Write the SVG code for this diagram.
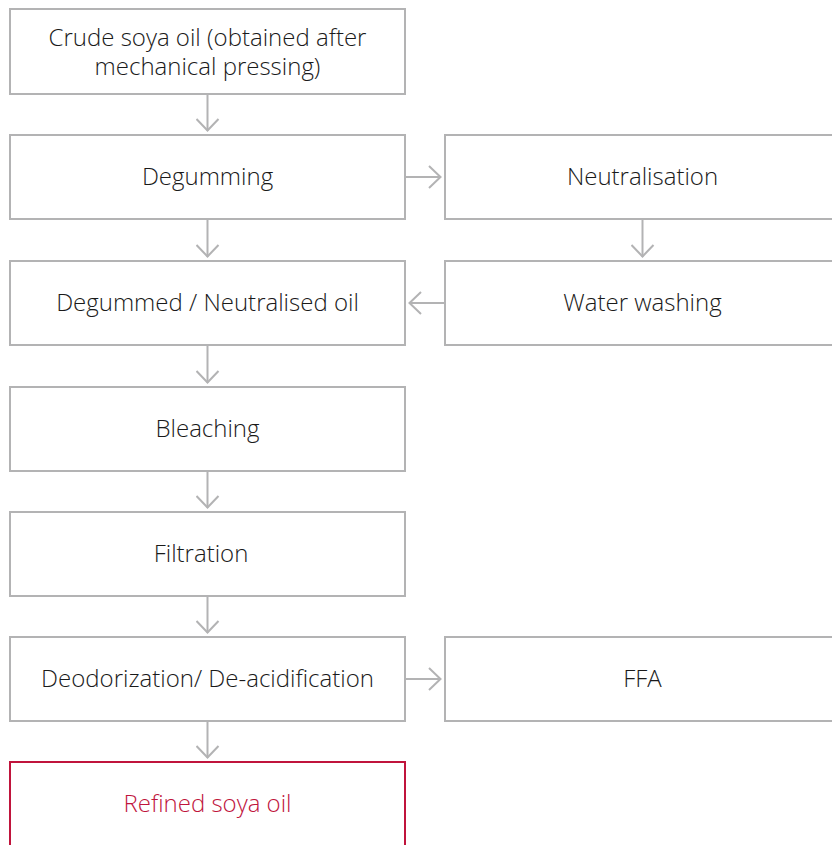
<svg xmlns="http://www.w3.org/2000/svg" width="832" height="845" viewBox="0 0 832 845">
<style>
.box{fill:#fff;stroke:#b3b3b4;stroke-width:2}
.red{fill:#fff;stroke:#c0143c;stroke-width:2}
.t{font-family:"Open Sans",Lato,sans-serif;font-weight:300;font-size:24px;fill:#1a1a1a;text-anchor:middle}
.tr{font-family:"Open Sans",Lato,sans-serif;font-weight:300;font-size:24px;fill:#c0143c;text-anchor:middle}
.c{stroke:#b3b3b4;stroke-width:2;fill:none}
</style>
<defs>
<marker id="ah" viewBox="0 0 14 24" refX="13" refY="12" markerWidth="14" markerHeight="24" markerUnits="userSpaceOnUse" orient="auto">
<path d="M1,1 L12.5,12 L1,23" fill="none" stroke="#b3b3b4" stroke-width="2"/>
</marker>
</defs>
<rect width="832" height="845" fill="#fff"/>
<g id="connectors">
<line class="c" x1="207.5" y1="94" x2="207.5" y2="131" marker-end="url(#ah)"/>
<line class="c" x1="207.5" y1="219" x2="207.5" y2="257" marker-end="url(#ah)"/>
<line class="c" x1="207.5" y1="345" x2="207.5" y2="383" marker-end="url(#ah)"/>
<line class="c" x1="207.5" y1="471" x2="207.5" y2="508" marker-end="url(#ah)"/>
<line class="c" x1="207.5" y1="596" x2="207.5" y2="633" marker-end="url(#ah)"/>
<line class="c" x1="207.5" y1="721" x2="207.5" y2="758" marker-end="url(#ah)"/>
<line class="c" x1="642.5" y1="219" x2="642.5" y2="257" marker-end="url(#ah)"/>
<line class="c" x1="405" y1="177" x2="441" y2="177" marker-end="url(#ah)"/>
<line class="c" x1="445" y1="303" x2="409" y2="303" marker-end="url(#ah)"/>
<line class="c" x1="405" y1="679" x2="441" y2="679" marker-end="url(#ah)"/>
</g>
<g id="crude">
<rect class="box" x="10" y="9" width="395" height="85"/>
<text class="t" x="207.5" y="46">Crude soya oil (obtained after<tspan x="207.5" y="75">mechanical pressing)</tspan></text>
</g>
<g id="degumming">
<rect class="box" x="10" y="135" width="395" height="84"/>
<text class="t" x="207.5" y="185">Degumming</text>
</g>
<g id="neutralisation">
<rect class="box" x="445" y="135" width="400" height="84"/>
<text class="t" x="642.5" y="185">Neutralisation</text>
</g>
<g id="degummed">
<rect class="box" x="10" y="261" width="395" height="84"/>
<text class="t" x="207.5" y="311">Degummed / Neutralised oil</text>
</g>
<g id="washing">
<rect class="box" x="445" y="261" width="400" height="84"/>
<text class="t" x="642.5" y="311">Water washing</text>
</g>
<g id="bleaching">
<rect class="box" x="10" y="387" width="395" height="84"/>
<text class="t" x="207.5" y="437">Bleaching</text>
</g>
<g id="filtration">
<rect class="box" x="10" y="512" width="395" height="84"/>
<text class="t" x="201" y="562">Filtration</text>
</g>
<g id="deodorization">
<rect class="box" x="10" y="637" width="395" height="84"/>
<text class="t" x="207.5" y="687">Deodorization/ De-acidification</text>
</g>
<g id="ffa">
<rect class="box" x="445" y="637" width="400" height="84"/>
<text class="t" x="642.5" y="687">FFA</text>
</g>
<g id="refined">
<rect class="red" x="10" y="762" width="395" height="100"/>
<text class="tr" x="207.5" y="812">Refined soya oil</text>
</g>
</svg>
